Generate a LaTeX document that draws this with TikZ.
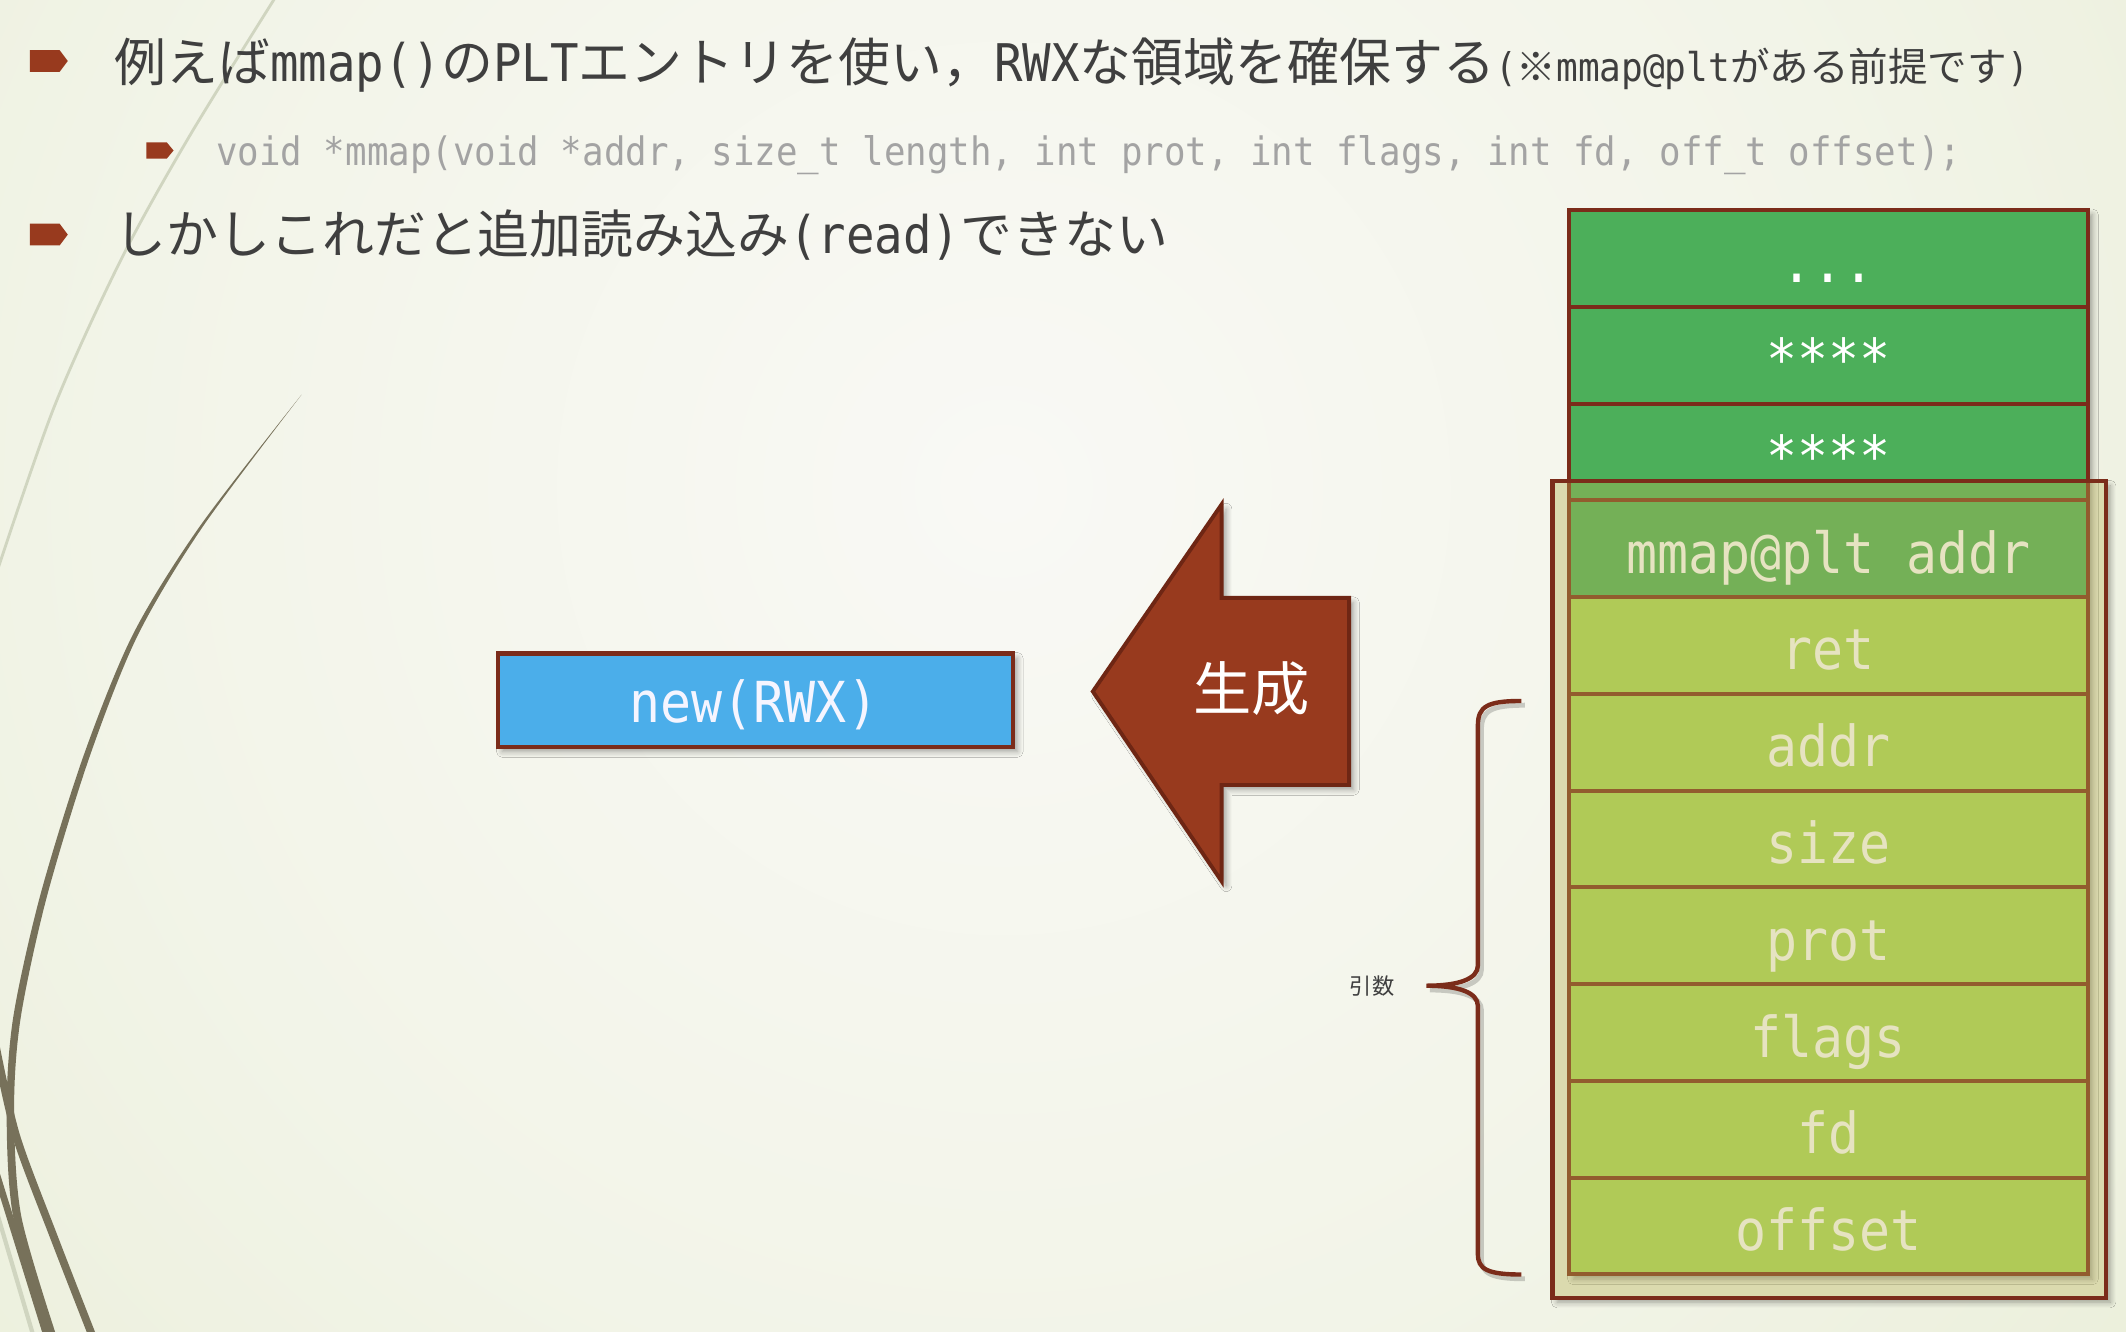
\documentclass[tikz,border=0pt]{standalone}
\usepackage{fontspec}
\setmainfont{Noto Sans CJK JP}
\newfontfamily\jp{Noto Sans CJK JP}
\newfontfamily\mono[FakeStretch=0.913]{DejaVu Sans Mono}
\usetikzlibrary{shadows.blur}
\definecolor{bgin}{HTML}{F9F9F5}
\definecolor{bgmid}{HTML}{F2F4E8}
\definecolor{bgoutA}{HTML}{E2E9C9}
\definecolor{bgoutB}{HTML}{D9E2B6}
\definecolor{bgbase}{HTML}{EEF1E2}
\definecolor{rust}{HTML}{983A1E}
\definecolor{rustdark}{HTML}{6E2614}
\definecolor{bordred}{HTML}{7B2C1A}
\definecolor{skyblue}{HTML}{4BAEEA}
\definecolor{greenrow}{HTML}{4CAF5A}
\definecolor{lightrow}{HTML}{ABD95A}
\definecolor{overlayc}{HTML}{BBB254}
\definecolor{txtgray}{HTML}{3F3F3F}
\definecolor{codegray}{HTML}{A3A3A3}
\definecolor{curvec}{HTML}{77715A}
\definecolor{lightcurve}{HTML}{D0D5C0}
\pgfdeclareradialshading{bgshade}{\pgfpoint{0bp}{0bp}}{color(0bp)=(bgin); color(15bp)=(bgmid); color(37bp)=(bgoutA); color(50bp)=(bgoutB)}
\newcommand\stackrow[4]{%
  \draw[rowbox, fill=#3] (1157,#2) rectangle (1540,#2+71.36);
  \node[rowtext] (#1) at (1348.5,#2+53.7) {#4};}
\begin{document}
\begin{tikzpicture}[x=0.384pt,y=-0.384pt,
  shadowed/.style={blur shadow={shadow xshift=1.3pt, shadow yshift=-1.3pt, shadow blur radius=1.6pt, shadow blur steps=6, shadow opacity=35}},
  bordline/.style={draw=bordred, line width=1.15pt},
  rowbox/.style={bordline},
  rowtext/.style={anchor=base, inner sep=0pt, text=white, font=\fontsize{16}{19}\selectfont\mono},
  bodytext/.style={anchor=base west, inner sep=0pt, text=txtgray, font=\fontsize{14.7}{17}\selectfont\jp},
  bulletmark/.style={fill=rust}
]
\useasboundingbox (0,0) rectangle (1568,982);
% background
\begin{scope}
\clip (0,0) rectangle (1568,982);
\shade[shading=bgshade] (740,360) circle (422pt);
\draw[lightcurve, line width=0.8pt] plot[smooth] coordinates {(205,-5) (140,100) (90,190) (40,300) (-5,430)};
\fill[curvec] plot[smooth] coordinates {(222.5,291) (147.5,388) (98,468) (61.4,558) (29.5,661) (9.8,750) (4.9,818) (9.8,898) (36.5,990)}
  -- plot[smooth] coordinates {(42.5,988) (15.7,897) (10.4,818) (15.2,751) (34.3,662.3) (65.6,559.5) (101.1,469.6) (149.1,389.1) (222.5,291)} -- cycle;
\draw[curvec, line width=2.2pt] plot[smooth] coordinates {(-3,772) (12,838) (40,913) (70,990)};
\draw[curvec, line width=1.9pt] (-5,858) -- (36,990);
\draw[lightcurve, line width=1.2pt] (-5,885) -- (26,990);
\end{scope}
% bullets and text
\fill[bulletmark] (22,37) -- (44,37) -- (50,45) -- (44,53) -- (22,53) -- cycle;
\fill[bulletmark] (108,105) -- (123,105) -- (128,111) -- (123,117) -- (108,117) -- cycle;
\fill[bulletmark] (22,165) -- (44,165) -- (50,173) -- (44,181) -- (22,181) -- cycle;
\node[bodytext] (l1) at (84,60) {例えば{\mono mmap()}の{\mono PLT}エントリを使い，{\mono RWX}な領域を確保する{\fontsize{11.2}{13}\selectfont{\mono(}※{\mono mmap@plt}がある前提です{\mono)}}};
\node[anchor=base west, inner sep=0pt, text=codegray, font=\fontsize{11.1}{12}\selectfont\mono] (l2) at (159,122) {void *mmap(void *addr, size\_t length, int prot, int flags, int fd, off\_t offset);};
\node[bodytext] (l3) at (84,187) {しかしこれだと追加読み込み{\mono (read)}できない};
% new(RWX) box
\node[bordline, fill=skyblue, shadowed, minimum width=145.9pt, minimum height=26.5pt, inner sep=0pt] (newbox) at (557,516.5) {};
\node[inner sep=0pt, text=white!96!blue, font=\fontsize{16}{19}\selectfont\mono] (newtxt) at (556,520) {new(RWX)};
% arrow
\draw[fill=rust, draw=rustdark, line width=1.1pt, shadowed] (806,510) -- (901,372) -- (901,441) -- (995,441) -- (995,579) -- (901,579) -- (901,650) -- cycle;
\node[text=white, inner sep=0pt, font=\fontsize{16.5}{19}\selectfont\jp] (gen) at (923,508) {生成};
% outer box shadow and base
\fill[bgbase, shadowed] (1145,355) rectangle (1553,957);
% stack
\fill[greenrow, shadowed] (1157,155) rectangle (1540,939.96);
\stackrow{r1}{155}{greenrow}{...}
\stackrow{r2}{226.36}{greenrow}{****}
\stackrow{r3}{297.72}{greenrow}{****}
\stackrow{r4}{369.08}{greenrow}{mmap@plt addr}
\stackrow{r5}{440.44}{lightrow}{ret}
\stackrow{r6}{511.8}{lightrow}{addr}
\stackrow{r7}{583.16}{lightrow}{size}
\stackrow{r8}{654.52}{lightrow}{prot}
\stackrow{r9}{725.88}{lightrow}{flags}
\stackrow{r10}{797.24}{lightrow}{fd}
\stackrow{r11}{868.6}{lightrow}{offset}
% overlay frame
\draw[bordline, fill=overlayc, fill opacity=0.36] (1145,355) rectangle (1553,957);
% brace
\draw[black, opacity=0.18, line width=1.4pt, xshift=1pt, yshift=-1.2pt] (1122,517) .. controls (1097,517) and (1090,521) .. (1090,535) -- (1090,712) .. controls (1090,722) and (1076,727) .. (1052,727) .. controls (1076,727) and (1090,732) .. (1090,742) -- (1090,925) .. controls (1090,936) and (1097,940) .. (1122,940);
\draw[bordred, line width=1.25pt] (1122,517) .. controls (1097,517) and (1090,521) .. (1090,535) -- (1090,712) .. controls (1090,722) and (1076,727) .. (1052,727) .. controls (1076,727) and (1090,732) .. (1090,742) -- (1090,925) .. controls (1090,936) and (1097,940) .. (1122,940);
\node[text=txtgray, inner sep=0pt, font=\fontsize{6.3}{7}\selectfont\jp] (argl) at (1012,727) {引数};
\end{tikzpicture}
\end{document}
